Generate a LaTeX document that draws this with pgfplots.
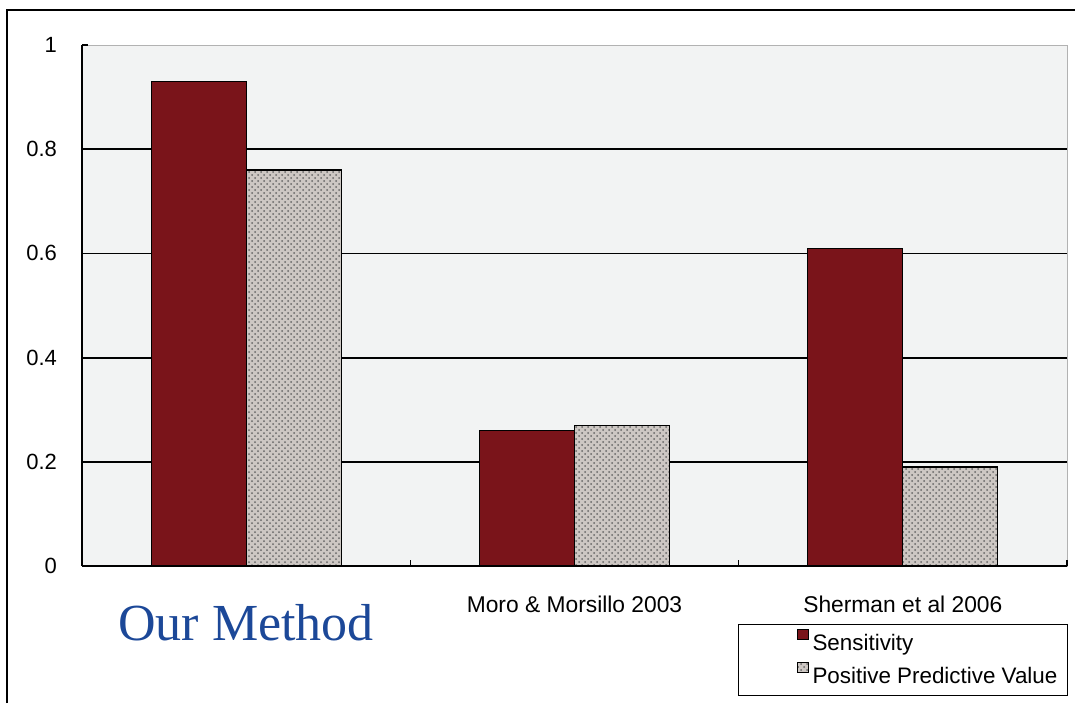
\documentclass[border=0pt]{standalone}
\usepackage{fontspec}
\setmainfont{Liberation Sans}
\newfontfamily\timesfont{Liberation Serif}
\usepackage{pgfplots}
\pgfplotsset{compat=1.18}
\usetikzlibrary{patterns}
\definecolor{barred}{RGB}{122,20,26}
\definecolor{bargray}{RGB}{205,199,195}
\definecolor{bgray}{RGB}{242,243,243}
\definecolor{labelblue}{RGB}{28,72,152}

\pgfplotstableread{
x sens ppv
0 0.93 0.76
1 0.26 0.27
2 0.61 0.19
}\datatable

\begin{document}
\begin{tikzpicture}
\useasboundingbox (0,0) rectangle (537.5pt,351.5pt);
\draw[line width=1pt] (3.5pt,0) -- (3.5pt,346.5pt) -- (537.5pt,346.5pt);
\begin{axis}[
  at={(41pt,68.5pt)}, anchor=south west,
  scale only axis, width=492.5pt, height=260.5pt,
  xmin=-0.5, xmax=2.5, ymin=0, ymax=1,
  ybar=0pt, bar width=47.5pt,
  axis x line*=bottom, axis y line*=left,
  axis line style={black, line width=0.9pt},
  axis background/.style={fill=bgray, draw=gray!60, line width=0.5pt},
  tick align=inside,
  xtick={0,1,2},
  xticklabels={{\raisebox{-14pt}{\timesfont\fontsize{26}{26}\selectfont\color{labelblue}Our Method}}, {Moro \& Morsillo 2003}, {Sherman et al 2006}},
  major x tick style={draw=none},
  minor xtick={0.5,1.5,2.5},
  minor x tick style={black, line width=0.6pt}, minor tick length=3pt,
  xticklabel style={anchor=base, yshift=-23pt, font=\fontsize{11.4}{13}\selectfont},
  ytick={0,0.2,0.4,0.6,0.8,1},
  yticklabels={0,0.2,0.4,0.6,0.8,1},
  yticklabel style={xshift=-9pt, font=\fontsize{11}{13}\selectfont},
  major y tick style={black, line width=0.6pt}, major tick length=3pt,
  extra y ticks={0.2,0.4,0.6,0.8}, extra y tick labels={},
  extra y tick style={grid=major},
  major grid style={black, line width=0.9pt},
  legend style={at={(1.001,-0.111)}, anchor=north east, draw=black, line width=0.6pt,
    font=\fontsize{11.2}{13}\selectfont, inner xsep=3pt, inner ysep=2.5pt,
    row sep=2.5pt, cells={anchor=west}, /tikz/every even column/.style={column sep=0pt}},
  legend image code/.code={\path (0pt,0pt); \draw[#1, draw=black, line width=0.4pt] (26pt,2pt) rectangle (31.5pt,7pt);},
]
\addplot[fill=barred, draw=black, line width=0.6pt] table[x=x, y=sens] {\datatable};
\addplot[fill=bargray, draw=black, line width=0.6pt, postaction={pattern=crosshatch dots, pattern color=gray!80!black}] table[x=x, y=ppv] {\datatable};
\legend{Sensitivity, Positive Predictive Value}
\end{axis}
\end{tikzpicture}
\end{document}
